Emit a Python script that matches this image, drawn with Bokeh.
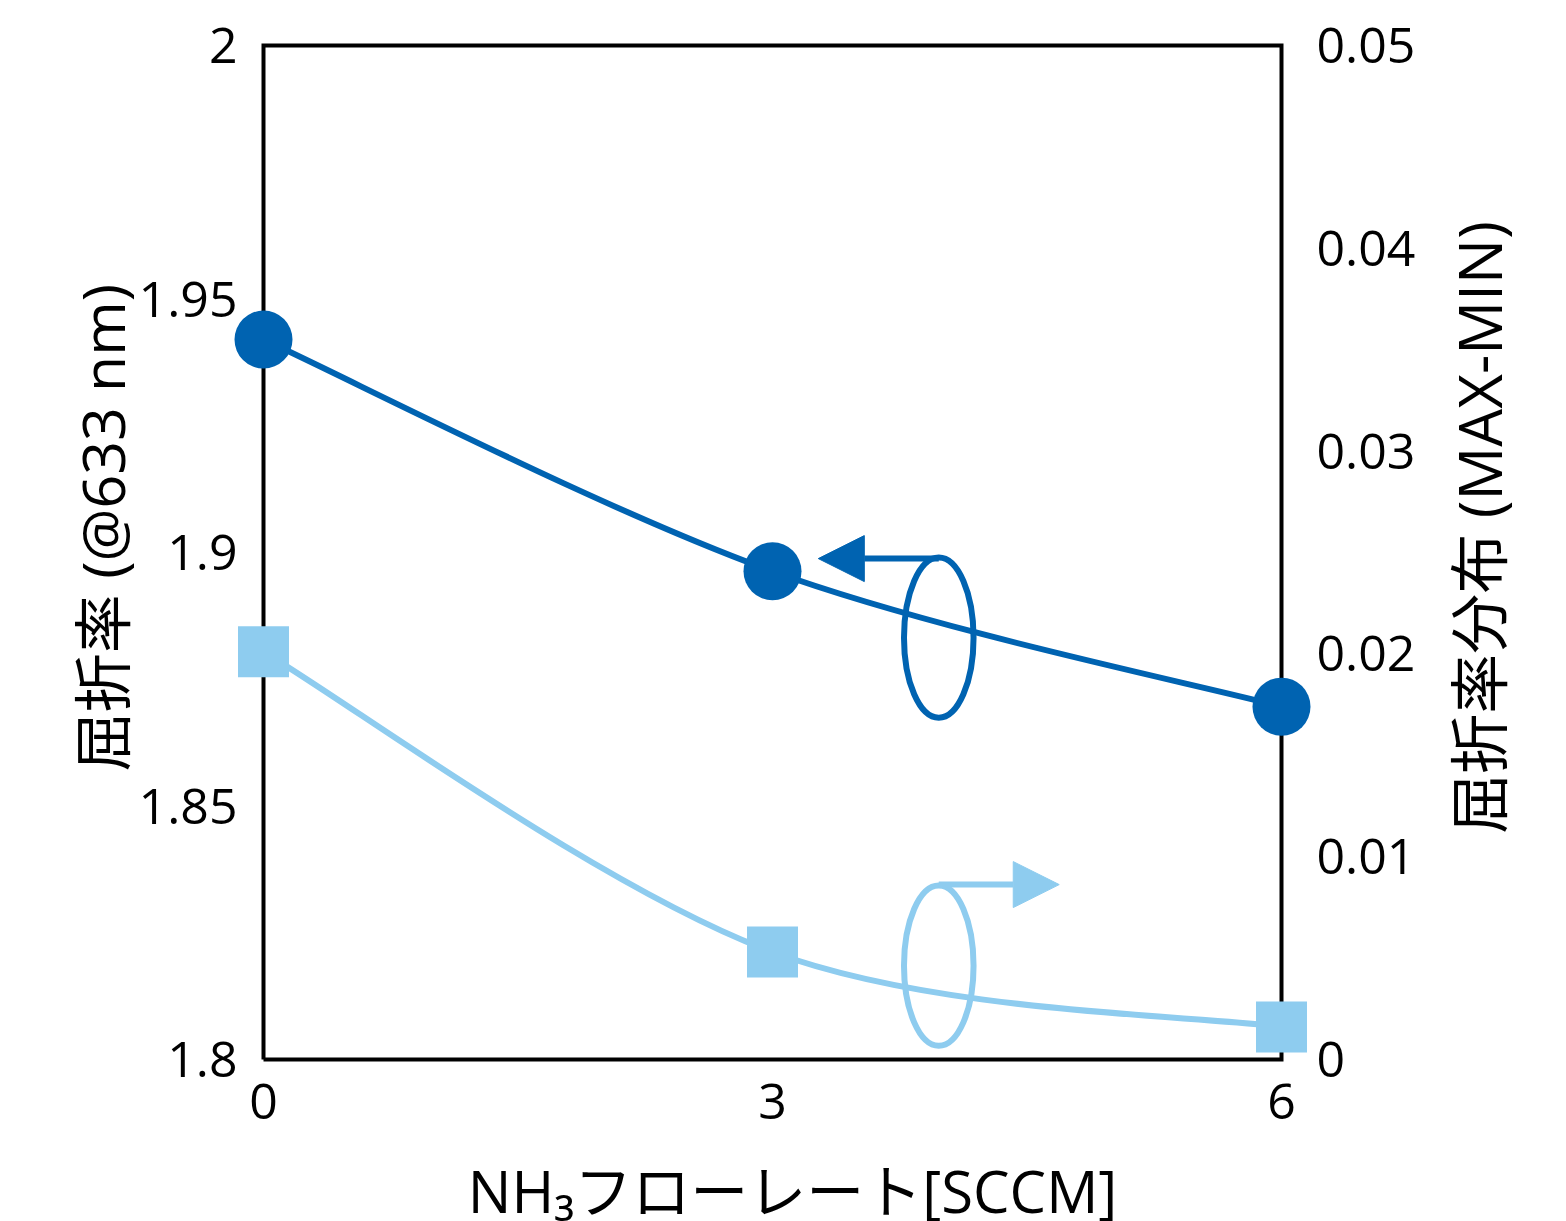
import math
from bokeh.plotting import figure
from bokeh.models import Range1d, LinearAxis, FixedTicker, Arrow, NormalHead, Label
from bokeh.embed import file_html
from bokeh.resources import INLINE

# ---- data ----
x_vals = [0, 3, 6]
refr_index = [1.942, 1.8963, 1.8696]        # left axis (circles)
refr_spread = [0.0201, 0.0053, 0.0016]      # right axis (squares)

left_ticks = [1.8, 1.85, 1.9, 1.95, 2.0]
left_labels = ["1.8", "1.85", "1.9", "1.95", "2"]
right_ticks = [0, 0.01, 0.02, 0.03, 0.04, 0.05]
right_labels = ["0", "0.01", "0.02", "0.03", "0.04", "0.05"]
x_ticks = [0, 3, 6]
x_labels = ["0", "3", "6"]

x_title = "NH₃フローレート[SCCM]"
left_title = "屈折率 (@633 nm)"
right_title = "屈折率分布 (MAX-MIN)"

X_MIN, X_MAX = 0, 6
YL_MIN, YL_MAX = 1.8, 2.0
YR_MIN, YR_MAX = 0, 0.05

DARK = "#0063B1"
LIGHT = "#8ECCEF"
FONT = "'Open Sans', 'Noto Sans CJK JP'"

# layout (pixels); the plotting frame covers the whole canvas so nothing is clipped
W, H = 1566, 1221
AX_L, AX_R, AX_T, AX_B = 263, 1281, 45, 1059   # axes box
XTITLE_CX, XTITLE_CY = 792, 1190
LTITLE_X, RTITLE_X, TITLE_CY = 101, 1478, 527


def smooth(xs, ys, t=1.0 / 6.0):
    n = len(xs)
    out = {k: [] for k in ("x0", "y0", "x1", "y1", "cx0", "cy0", "cx1", "cy1")}
    for i in range(n - 1):
        a = max(i - 1, 0)
        d = min(i + 2, n - 1)
        out["x0"].append(xs[i]); out["y0"].append(ys[i])
        out["x1"].append(xs[i + 1]); out["y1"].append(ys[i + 1])
        out["cx0"].append(xs[i] + (xs[i + 1] - xs[a]) * t)
        out["cy0"].append(ys[i] + (ys[i + 1] - ys[a]) * t)
        out["cx1"].append(xs[i + 1] - (xs[d] - xs[i]) * t)
        out["cy1"].append(ys[i + 1] - (ys[d] - ys[i]) * t)
    return out


ppx = (X_MAX - X_MIN) / (AX_R - AX_L)
ppy = (YL_MAX - YL_MIN) / (AX_B - AX_T)
ppr = (YR_MAX - YR_MIN) / (AX_B - AX_T)


def px_x(sx):
    return X_MIN + (sx - AX_L) * ppx


def px_y(sy):
    return YL_MAX - (sy - AX_T) * ppy


p = figure(width=W, height=H,
           x_range=Range1d(px_x(0), px_x(W)), y_range=Range1d(px_y(H), px_y(0)),
           output_backend="svg", toolbar_location=None, x_axis_location=None, y_axis_location=None,
           min_border_left=0, min_border_right=0, min_border_top=0, min_border_bottom=0)
p.extra_y_ranges = {"right": Range1d(YR_MIN - (H - AX_B) * ppr, YR_MAX + AX_T * ppr)}
p.grid.visible = False
p.outline_line_color = None

ax_b = LinearAxis(ticker=FixedTicker(ticks=x_ticks), major_label_overrides=dict(zip(x_ticks, x_labels)))
ax_l = LinearAxis(ticker=FixedTicker(ticks=left_ticks), major_label_overrides=dict(zip(left_ticks, left_labels)))
ax_r = LinearAxis(y_range_name="right", ticker=FixedTicker(ticks=right_ticks),
                  major_label_overrides=dict(zip(right_ticks, right_labels)))
p.add_layout(ax_b, "below")
p.add_layout(ax_l, "left")
p.add_layout(ax_r, "right")

for ax in (ax_b, ax_l, ax_r):
    ax.axis_line_color = None
    ax.major_tick_line_color = None
    ax.minor_tick_line_color = None
    ax.major_tick_out = 0
    ax.major_tick_in = 0
    ax.major_label_text_font = FONT
    ax.major_label_text_font_size = "50px"
    ax.major_label_text_color = "black"

# tick labels placed relative to the axes box
ax_b.major_label_standoff = 24 - (H - AX_B)
ax_l.major_label_standoff = 26 - AX_L
ax_r.major_label_standoff = 35 - (W - AX_R)

# axes box
p.line([X_MIN, X_MAX, X_MAX, X_MIN, X_MIN], [YL_MIN, YL_MIN, YL_MAX, YL_MAX, YL_MIN],
       line_color="black", line_width=4, line_join="miter")

# axis titles
p.add_layout(Label(x=px_x(XTITLE_CX), y=px_y(XTITLE_CY), text=x_title,
                   text_align="center", text_baseline="middle",
                   text_font=FONT, text_font_size="58px", text_color="black"))
p.add_layout(Label(x=px_x(LTITLE_X), y=px_y(TITLE_CY), text=left_title, angle=math.pi / 2,
                   text_align="center", text_baseline="middle",
                   text_font=FONT, text_font_size="59px", text_color="black"))
p.add_layout(Label(x=px_x(RTITLE_X), y=px_y(TITLE_CY), text=right_title, angle=math.pi / 2,
                   text_align="center", text_baseline="middle",
                   text_font=FONT, text_font_size="60px", text_color="black"))

# smoothed lines
s1 = smooth(x_vals, refr_index)
p.bezier(line_color=DARK, line_width=6, **s1)
s2 = smooth(x_vals, refr_spread)
p.bezier(line_color=LIGHT, line_width=6, y_range_name="right", **s2)

# markers
p.scatter(x_vals, refr_index, marker="circle", size=58, fill_color=DARK, line_color=None)
p.scatter(x_vals, refr_spread, marker="square", size=51, fill_color=LIGHT, line_color=None,
          y_range_name="right")

# annotation ellipses with arrows
p.ellipse(x=[3.98], y=[1.8832], width=0.41, height=0.0316,
          fill_color=None, line_color=DARK, line_width=6)
p.ellipse(x=[3.98], y=[1.8185], width=0.41, height=0.0316,
          fill_color=None, line_color=LIGHT, line_width=6)
p.add_layout(Arrow(x_start=3.98, y_start=1.8988, x_end=3.27, y_end=1.8988,
                   line_color=DARK, line_width=6,
                   end=NormalHead(size=46, fill_color=DARK, line_color=DARK, line_width=1)))
p.add_layout(Arrow(x_start=3.98, y_start=1.8345, x_end=4.69, y_end=1.8345,
                   line_color=LIGHT, line_width=6,
                   end=NormalHead(size=46, fill_color=LIGHT, line_color=LIGHT, line_width=1)))

open("out.html", "w").write(file_html(p, INLINE))
